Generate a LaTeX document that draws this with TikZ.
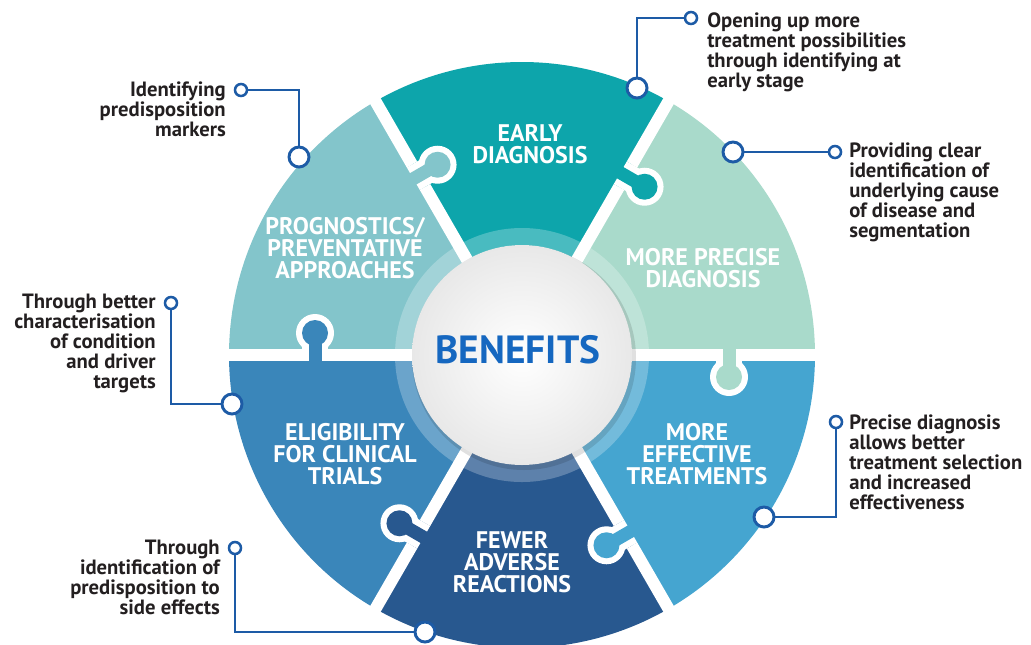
\documentclass[tikz,border=0pt]{standalone}
\usepackage{fontspec}
\setmainfont{PT Sans}
\usetikzlibrary{calc}
\definecolor{cearly}{HTML}{0DA5AB}
\definecolor{cprecise}{HTML}{A9DACB}
\definecolor{ceffect}{HTML}{45A5D0}
\definecolor{cadverse}{HTML}{28588F}
\definecolor{celig}{HTML}{3A86BA}
\definecolor{cprog}{HTML}{83C5CB}
\definecolor{cbenef}{HTML}{1567C0}
\definecolor{cline}{HTML}{1D5BA6}
\definecolor{ctext}{HTML}{231F20}
\newcommand{\knobat}[2]{%
  \fill[white] ($(#1:207)+(#1-90:22)$) circle (19);
  \fill[white] ($(#1:194)+(#1+90:6)$) -- ($(#1:220)+(#1+90:6)$) -- ($(#1:220)+(#1-90:22)$) -- ($(#1:194)+(#1-90:22)$) -- cycle;
  \fill[#2] ($(#1:207)+(#1-90:22)$) circle (13);
  \fill[#2] ($(#1:200.5)+(#1+90:7)$) -- ($(#1:213.5)+(#1+90:7)$) -- ($(#1:213.5)+(#1-90:22)$) -- ($(#1:200.5)+(#1-90:22)$) -- cycle;
  \draw[white, line width=9pt] (0,0) -- (#1:194) (#1:220) -- (#1:300);
}
\begin{document}
\begin{tikzpicture}[x=0.75pt,y=-0.75pt,
  seglabel/.style={text=white, font=\fontsize{18pt}{16.5pt}\selectfont\bfseries, align=center, inner sep=0pt},
  annot/.style={text=ctext, font=\fontsize{15.5pt}{15pt}\selectfont\bfseries, inner sep=0pt},
  bigdot/.style={circle, draw=cline, fill=white, line width=2.2pt, minimum size=15pt, inner sep=0pt},
  smalldot/.style={circle, draw=cline, fill=white, line width=1.9pt, minimum size=9pt, inner sep=0pt},
  conn/.style={draw=cline, line width=1.9pt}]
\useasboundingbox (0,0) rectangle (1031,644);
\clip (0,0) rectangle (1031,644);
\begin{scope}[shift={(522,355)}, yscale=-1]
  \fill[cearly] (0,0) -- (60:293) arc[start angle=60, end angle=120, radius=293] -- cycle;
  \fill[cprecise] (0,0) -- (0:293) arc[start angle=0, end angle=60, radius=293] -- cycle;
  \fill[ceffect] (0,0) -- (-60:293) arc[start angle=-60, end angle=0, radius=293] -- cycle;
  \fill[cadverse] (0,0) -- (-120:293) arc[start angle=-120, end angle=-60, radius=293] -- cycle;
  \fill[celig] (0,0) -- (180:293) arc[start angle=180, end angle=240, radius=293] -- cycle;
  \fill[cprog] (0,0) -- (120:293) arc[start angle=120, end angle=180, radius=293] -- cycle;
  \fill[white, opacity=0.25, even odd rule] (0,0) circle (127) (0,0) circle (110);
  \knobat{120}{cprog}
  \knobat{60}{cearly}
  \knobat{0}{cprecise}
  \knobat{-60}{ceffect}
  \knobat{-120}{cadverse}
  \knobat{180}{celig}
  \fill[black, opacity=0.12] (2,-3) circle (112);
  \shade[inner color=white, outer color=black!9] (0,0) circle (110);
\end{scope}
\node[text=cbenef, font=\fontsize{29.5pt}{29.5pt}\selectfont\bfseries, inner sep=0pt] (ben) at (518,350) {BENEFITS};
\node[seglabel] (l1) at (530,144) {EARLY\\DIAGNOSIS};
\node[seglabel] (l2) at (345,248) {PROGNOSTICS/\\PREVENTATIVE\\APPROACHES};
\node[seglabel] (l3) at (703,268) {MORE PRECISE\\DIAGNOSIS};
\node[seglabel] (l4) at (697,454) {MORE\\EFFECTIVE\\TREATMENTS};
\node[seglabel] (l5) at (345,454) {ELIGIBILITY\\FOR CLINICAL\\TRIALS};
\node[seglabel] (l6) at (512,562) {FEWER\\ADVERSE\\REACTIONS};
% annotation dots
\node[bigdot] (b1) at (637,88) {};
\node[smalldot] (s1) at (691,18) {};
\node[bigdot] (b2) at (733,152) {};
\node[smalldot] (s2) at (835,152) {};
\node[bigdot] (b3) at (764,517) {};
\node[smalldot] (s3) at (836,422) {};
\node[bigdot] (b4) at (299,157) {};
\node[smalldot] (s4) at (241,90) {};
\node[bigdot] (b5) at (232,404) {};
\node[smalldot] (s5) at (171,303) {};
\node[bigdot] (b6) at (425,632) {};
\node[smalldot] (s6) at (235,548) {};
\draw[conn] (s1.west) -| (b1.north);
\draw[conn] (s2.west) -- (b2.east);
\draw[conn] (s3.south) |- (b3.east);
\draw[conn] (s4.east) -| (b4.north);
\draw[conn] (s5.south) |- (b5.west);
\draw[conn] (s6.south) |- (b6.west);
\node[annot, anchor=north west, align=left] (t1) at (707,12) {Opening up more\\treatment possibilities\\through identifying at\\early stage};
\node[annot, anchor=north west, align=left] (t2) at (849,143) {Providing clear\\identification of\\underlying cause\\of disease and\\segmentation};
\node[annot, anchor=north west, align=left] (t3) at (849,415) {Precise diagnosis\\allows better\\treatment selection\\and increased\\effectiveness};
\node[annot, anchor=north east, align=right] (t4) at (226,82) {Identifying\\predisposition\\markers};
\node[annot, anchor=north east, align=right] (t5) at (156,294) {Through better\\characterisation\\of condition\\and driver\\targets};
\node[annot, anchor=north east, align=right] (t6) at (220,540) {Through\\identification of\\predisposition to\\side effects};
\end{tikzpicture}
\end{document}
